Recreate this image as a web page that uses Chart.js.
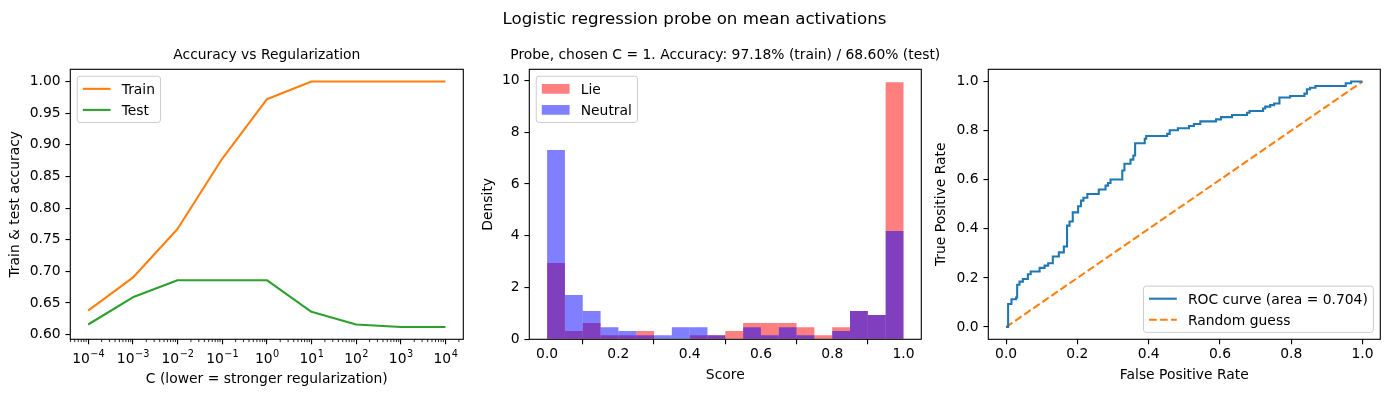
<!DOCTYPE html>
<html><head><meta charset="utf-8">
<script src="https://cdn.jsdelivr.net/npm/chart.js@4.4.1/dist/chart.umd.min.js"></script>
<style>
html,body{margin:0;padding:0;background:#fff;}
#fig{position:relative;width:1389px;height:397px;overflow:hidden;font-family:'DejaVu Sans',sans-serif;color:#000;}
#fig canvas{position:absolute;left:0;top:0;}
.t{position:absolute;white-space:nowrap;line-height:1;transform:translateX(-50%);}
</style></head><body>
<div id="fig">
<canvas id="c1" width="1389" height="397"></canvas>
<canvas id="c2" width="1389" height="397"></canvas>
<canvas id="c3" width="1389" height="397"></canvas>
<div class="t" style="left:694.5px;top:10.9px;font-size:16.67px">Logistic regression probe on mean activations</div>
<div class="t" style="left:266.8px;top:47.7px;font-size:13.89px">Accuracy vs Regularization</div>
<div class="t" style="left:725.3px;top:47.7px;font-size:13.89px">Probe, chosen C = 1. Accuracy: 97.18% (train) / 68.60% (test)</div>
</div>
<script>
// ---------- data ----------
const cValues = [1e-4, 1e-3, 1e-2, 1e-1, 1, 10, 100, 1000, 10000];
const trainAcc = [0.638, 0.690, 0.767, 0.878, 0.972, 1.000, 1.000, 1.000, 1.000];
const testAcc  = [0.616, 0.659, 0.686, 0.686, 0.686, 0.636, 0.616, 0.612, 0.612];
const cTickValues = [1e-4, 1e-3, 1e-2, 1e-1, 1, 10, 100, 1000, 10000];
const cTickBase = '10';
const cTickExponents = ['\u22124','\u22123','\u22122','\u22121','0','1','2','3','4'];
const accTicks = [0.60, 0.65, 0.70, 0.75, 0.80, 0.85, 0.90, 0.95, 1.00];

const binEdges = [0,0.05,0.1,0.15,0.2,0.25,0.3,0.35,0.4,0.45,0.5,0.55,0.6,0.65,0.7,0.75,0.8,0.85,0.9,0.95,1.0];
const lieDensity     = [2.95,0.32,0.63,0.16,0.16,0.32,0,0,0.16,0.16,0.32,0.63,0.63,0.63,0.47,0.16,0.47,1.09,0.94,9.93];
const neutralDensity = [7.31,1.71,1.09,0.47,0.32,0.16,0.16,0.47,0.47,0.16,0,0.47,0.16,0.47,0.16,0,0.32,1.09,0.94,4.18];
const scoreTicks = [0, 0.2, 0.4, 0.6, 0.8, 1.0];
const densityTicks = [0, 2, 4, 6, 8, 10];

const rocFpr = [0,0.0056,0.015,0.028,0.031,0.0375,0.047,0.061,0.069,0.094,0.108,0.118,0.131,0.148,0.162,0.171,0.178,0.187,0.202,0.210,0.217,0.228,0.260,0.279,0.286,0.293,0.326,0.332,0.349,0.357,0.362,0.389,0.393,0.452,0.459,0.482,0.513,0.527,0.545,0.589,0.603,0.634,0.676,0.683,0.721,0.727,0.741,0.752,0.767,0.797,0.837,0.844,0.853,0.868,0.953,0.968,1.0];
const rocTpr = [0,0.094,0.113,0.120,0.172,0.185,0.196,0.215,0.226,0.241,0.250,0.260,0.287,0.304,0.328,0.413,0.430,0.467,0.492,0.515,0.527,0.542,0.560,0.576,0.587,0.601,0.638,0.665,0.682,0.699,0.749,0.767,0.778,0.787,0.802,0.810,0.819,0.827,0.838,0.846,0.855,0.864,0.873,0.880,0.890,0.898,0.904,0.911,0.935,0.941,0.951,0.969,0.975,0.982,0.993,1.0,1.0];
const guessX = [0, 1];
const guessY = [0, 1];
const rateTicks = [0, 0.2, 0.4, 0.6, 0.8, 1.0];

// ---------- style ----------
const FS = 13.89;
const W = 1389, H = 397;
Chart.defaults.font.family = "'DejaVu Sans', sans-serif";
Chart.defaults.font.size = FS;
Chart.defaults.color = '#000';

const framePlugin = {
  id: 'mplFrame',
  afterDatasetsDraw(chart, args, o) {
    const {ctx, chartArea: a} = chart;
    ctx.save();
    ctx.strokeStyle = '#000'; ctx.lineWidth = 1.1;
    ctx.strokeRect(a.left, a.top, a.right - a.left, a.bottom - a.top);
    if (o && o.minorLog) {
      const xs = chart.scales.x;
      ctx.lineWidth = 0.83;
      for (let k = -6; k <= 5; k++) for (let m = 2; m <= 9; m++) {
        const v = m * Math.pow(10, k);
        if (v < xs.min || v > xs.max) continue;
        const px = xs.getPixelForValue(v);
        ctx.beginPath(); ctx.moveTo(px, a.bottom); ctx.lineTo(px, a.bottom + 2.78); ctx.stroke();
      }
      // mathtext-like tick labels: base with raised exponent
      ctx.fillStyle = '#000';
      ctx.textBaseline = 'alphabetic';
      ctx.textAlign = 'left';
      const supFs = FS * 0.7;
      xs.ticks.forEach((t, i) => {
        const px = xs.getPixelForValue(t.value);
        ctx.font = FS + "px 'DejaVu Sans'";
        const wb = ctx.measureText(cTickBase).width;
        ctx.font = supFs + "px 'DejaVu Sans'";
        const we = ctx.measureText(cTickExponents[i]).width;
        const x0 = px - (wb + we) / 2;
        const baseY = a.bottom + 23.6;
        ctx.font = FS + "px 'DejaVu Sans'";
        ctx.fillText(cTickBase, x0, baseY);
        ctx.font = supFs + "px 'DejaVu Sans'";
        ctx.fillText(cTickExponents[i], x0 + wb + 0.5, baseY - 6.3);
      });
    }
    ctx.restore();
  }
};

const legendPlugin = {
  id: 'mplLegend',
  afterDraw(chart, args, o) {
    if (!o || !o.loc) return;
    const ctx = chart.ctx, a = chart.chartArea;
    const items = chart.data.datasets.map(d => ({label: d.label, color: o.kind === 'patch' ? d.backgroundColor : d.borderColor, dash: d.borderDash}));
    ctx.save();
    ctx.font = FS + "px 'DejaVu Sans'";
    const pad = 0.4 * FS, hl = 2 * FS, htp = 0.8 * FS, ls = 0.5 * FS, axpad = 0.5 * FS, rowH = 14.1;
    const tw = Math.max(...items.map(it => ctx.measureText(it.label).width));
    const w = 2 * pad + hl + htp + tw, h = 2 * pad + items.length * rowH + (items.length - 1) * ls;
    const x0 = o.loc === 'upper left' ? a.left + axpad : a.right - axpad - w;
    const y0 = o.loc === 'upper left' ? a.top + axpad : a.bottom - axpad - h;
    ctx.beginPath(); ctx.roundRect(x0, y0, w, h, 0.2 * FS);
    ctx.fillStyle = 'rgba(255,255,255,0.8)'; ctx.fill();
    ctx.strokeStyle = '#cccccc'; ctx.lineWidth = 1; ctx.stroke();
    items.forEach((it, i) => {
      const cy = y0 + pad + rowH / 2 + i * (rowH + ls);
      const hx = x0 + pad;
      if (o.kind === 'patch') {
        ctx.fillStyle = it.color; ctx.fillRect(hx, cy - 0.35 * FS, hl, 0.7 * FS);
      } else {
        ctx.strokeStyle = it.color; ctx.lineWidth = 2.08; ctx.setLineDash(it.dash || []);
        ctx.beginPath(); ctx.moveTo(hx, cy); ctx.lineTo(hx + hl, cy); ctx.stroke(); ctx.setLineDash([]);
      }
      ctx.fillStyle = '#000'; ctx.textBaseline = 'alphabetic';
      ctx.fillText(it.label, hx + hl + htp, cy + 0.365 * FS);
    });
    ctx.restore();
  }
};

function xAxis(extra, height, title, tickVals, fmt) {
  return Object.assign({
    position: 'bottom',
    afterBuildTicks: s => { s.ticks = tickVals.map(v => ({value: v})); },
    afterFit: s => { s.height = height; },
    grid: {drawOnChartArea: false, drawTicks: true, tickLength: 4.86, color: '#000', lineWidth: 1.1},
    border: {display: false},
    ticks: {autoSkip: false, maxRotation: 0, minRotation: 0, padding: 2, color: '#000', font: {size: FS}, callback: fmt},
    title: {display: true, text: title, padding: 0, color: '#000', font: {size: FS}}
  }, extra);
}
function yAxis(extra, width, title, tickVals, fmt) {
  return Object.assign({
    position: 'left',
    afterBuildTicks: s => { s.ticks = tickVals.map(v => ({value: v})); },
    afterFit: s => { s.width = width; },
    grid: {drawOnChartArea: false, drawTicks: true, tickLength: 4.86, color: '#000', lineWidth: 1.1},
    border: {display: false},
    ticks: {autoSkip: false, padding: 4.86, color: '#000', font: {size: FS}, callback: fmt},
    title: {display: true, text: title, padding: 0, color: '#000', font: {size: FS}}
  }, extra);
}
const base = {responsive: false, animation: false, events: []};

// ---------- chart 1: accuracy vs C ----------
{
  const L = 70.3, R = 463.3, T = 69.3, B = 339.3, yw = 63.4, xh = 48.9;
  new Chart(document.getElementById('c1'), {
    type: 'line',
    data: {datasets: [
      {label: 'Train', data: cValues.map((c, i) => ({x: c, y: trainAcc[i]})), borderColor: '#ff7f0e', backgroundColor: '#ff7f0e', borderWidth: 2.08, pointRadius: 0, tension: 0, borderJoinStyle: 'round', fill: false},
      {label: 'Test', data: cValues.map((c, i) => ({x: c, y: testAcc[i]})), borderColor: '#2ca02c', backgroundColor: '#2ca02c', borderWidth: 2.08, pointRadius: 0, tension: 0, borderJoinStyle: 'round', fill: false}
    ]},
    options: Object.assign({}, base, {
      layout: {padding: {left: L - yw, right: W - R, top: T, bottom: H - B - xh}},
      plugins: {legend: {display: false}, tooltip: {enabled: false}, mplFrame: {minorLog: true}, mplLegend: {loc: 'upper left', kind: 'line'}},
      scales: {
        x: xAxis({type: 'logarithmic', min: Math.pow(10, -4.4), max: Math.pow(10, 4.4)}, xh, 'C (lower = stronger regularization)', cTickValues, () => ''),
        y: yAxis({type: 'linear', min: 0.5926, max: 1.0194}, yw, 'Train & test accuracy', accTicks, v => v.toFixed(2))
      }
    }),
    plugins: [framePlugin, legendPlugin]
  });
}

// ---------- chart 2: histogram ----------
{
  const L = 529.3, R = 921.3, T = 69.3, B = 339.3, yw = 49.5, xh = 44.4;
  const centers = binEdges.slice(0, -1).map((e, i) => (e + binEdges[i + 1]) / 2);
  new Chart(document.getElementById('c2'), {
    type: 'bar',
    data: {datasets: [
      {label: 'Lie', data: centers.map((x, i) => ({x: x, y: lieDensity[i]})), backgroundColor: 'rgba(255,0,0,0.5)', order: 1},
      {label: 'Neutral', data: centers.map((x, i) => ({x: x, y: neutralDensity[i]})), backgroundColor: 'rgba(0,0,255,0.5)', order: 0}
    ]},
    options: Object.assign({}, base, {
      datasets: {bar: {grouped: false, barPercentage: 1, categoryPercentage: 1, borderWidth: 0, inflateAmount: 0}},
      layout: {padding: {left: L - yw, right: W - R, top: T, bottom: H - B - xh}},
      plugins: {legend: {display: false}, tooltip: {enabled: false}, mplLegend: {loc: 'upper left', kind: 'patch'}},
      scales: {
        x: xAxis({type: 'linear', min: -0.05, max: 1.05, offset: false}, xh, 'Score', scoreTicks, v => v.toFixed(1)),
        y: yAxis({type: 'linear', min: 0, max: 10.43}, yw, 'Density', densityTicks, v => String(v))
      }
    }),
    plugins: [framePlugin, legendPlugin]
  });
}

// ---------- chart 3: ROC ----------
{
  const L = 988.3, R = 1380.3, T = 69.3, B = 339.3, yw = 54.9, xh = 44.4;
  new Chart(document.getElementById('c3'), {
    type: 'line',
    data: {datasets: [
      {label: 'ROC curve (area = 0.704)', data: rocFpr.map((f, i) => ({x: f, y: rocTpr[i]})), borderColor: '#1f77b4', backgroundColor: '#1f77b4', borderWidth: 2.08, pointRadius: 0, stepped: true, fill: false},
      {label: 'Random guess', data: guessX.map((f, i) => ({x: f, y: guessY[i]})), borderColor: '#ff7f0e', backgroundColor: '#ff7f0e', borderWidth: 2.08, borderDash: [7.7, 3.3], pointRadius: 0, tension: 0, fill: false}
    ]},
    options: Object.assign({}, base, {
      layout: {padding: {left: L - yw, right: W - R, top: T, bottom: H - B - xh}},
      plugins: {legend: {display: false}, tooltip: {enabled: false}, mplLegend: {loc: 'lower right', kind: 'line'}},
      scales: {
        x: xAxis({type: 'linear', min: -0.05, max: 1.05}, xh, 'False Positive Rate', rateTicks, v => v.toFixed(1)),
        y: yAxis({type: 'linear', min: -0.05, max: 1.05}, yw, 'True Positive Rate', rateTicks, v => v.toFixed(1))
      }
    }),
    plugins: [framePlugin, legendPlugin]
  });
}
</script>
</body></html>
